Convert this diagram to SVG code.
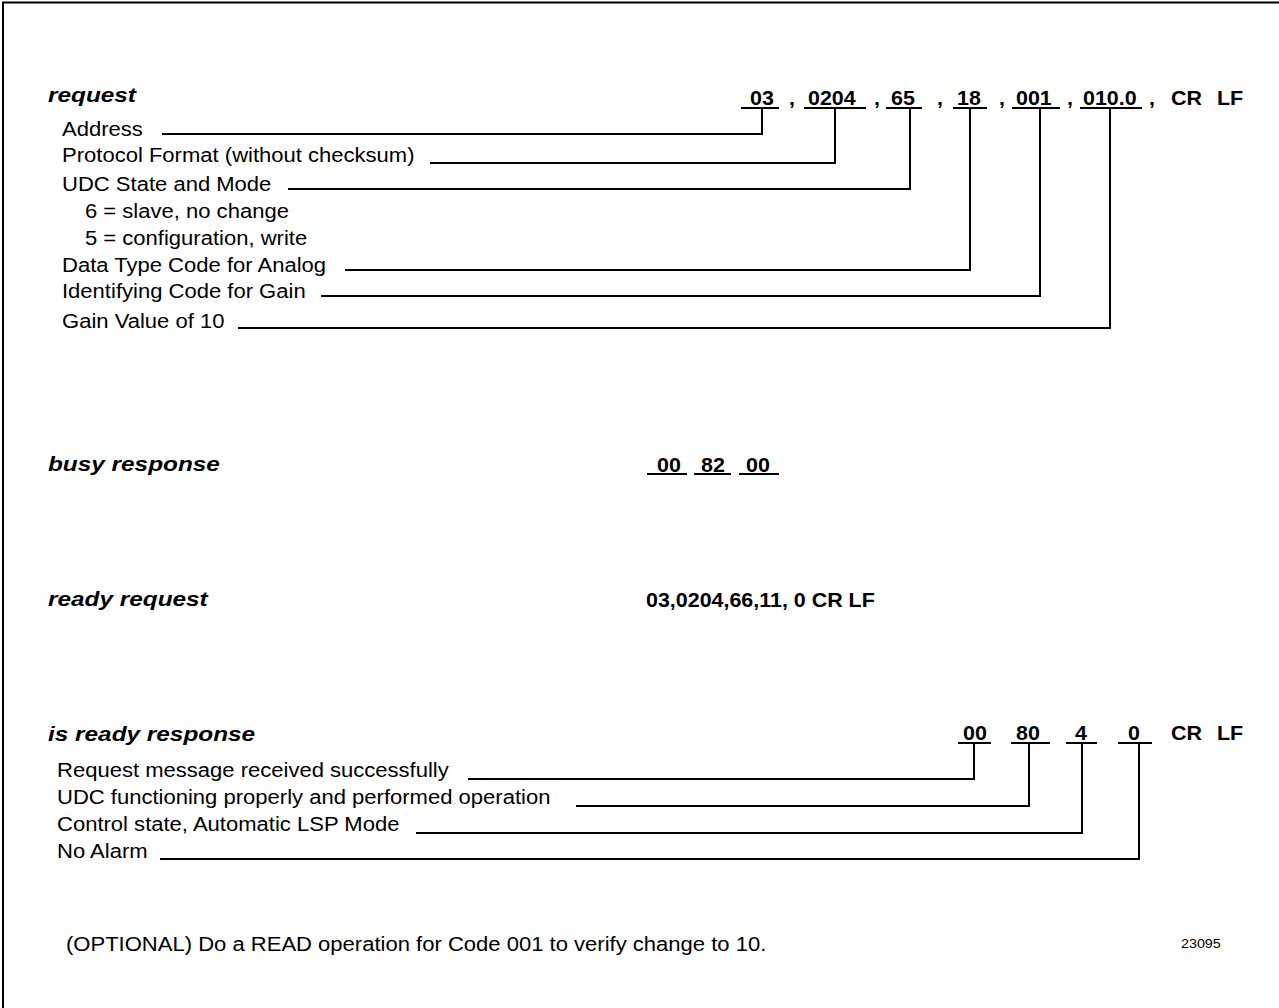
<svg xmlns="http://www.w3.org/2000/svg" width="1279" height="1008" viewBox="0 0 1279 1008">
<style>
.h{font-family:"Liberation Sans",Arial,sans-serif;font-size:21px;font-weight:bold;font-style:italic;fill:#000}
.t{font-family:"Liberation Sans",Arial,sans-serif;font-size:19.5px;fill:#000}
.v{font-family:"Liberation Sans",Arial,sans-serif;font-size:19.5px;font-weight:bold;fill:#000}
.s{font-family:"Liberation Sans",Arial,sans-serif;font-size:13px;fill:#000}
.ln{fill:none;stroke:#000;stroke-width:2}
</style>
<rect width="1279" height="1008" fill="#fff"/>
<path class="ln" d="M3,1008 V2.5 H1279"/>

<g id="request">
<text class="h" transform="translate(48,102) scale(1.16,1)">request</text>
<text class="v" transform="translate(750,105) scale(1.1,1)">03</text>
<text class="v" transform="translate(789,105) scale(1.1,1)">,</text>
<text class="v" transform="translate(808,105) scale(1.1,1)">0204</text>
<text class="v" transform="translate(874,105) scale(1.1,1)">,</text>
<text class="v" transform="translate(891,105) scale(1.1,1)">65</text>
<text class="v" transform="translate(937,105) scale(1.1,1)">,</text>
<text class="v" transform="translate(957,105) scale(1.1,1)">18</text>
<text class="v" transform="translate(999,105) scale(1.1,1)">,</text>
<text class="v" transform="translate(1016,105) scale(1.1,1)">001</text>
<text class="v" transform="translate(1067,105) scale(1.1,1)">,</text>
<text class="v" transform="translate(1083,105) scale(1.1,1)">010.0</text>
<text class="v" transform="translate(1149,105) scale(1.1,1)">,</text>
<text class="v" transform="translate(1171,105) scale(1.1,1)">CR</text>
<text class="v" transform="translate(1217,105) scale(1.1,1)">LF</text>
<text class="t" transform="translate(62,136) scale(1.13,1)">Address</text>
<text class="t" transform="translate(62,162) scale(1.13,1)">Protocol Format (without checksum)</text>
<text class="t" transform="translate(62,191) scale(1.13,1)">UDC State and Mode</text>
<text class="t" transform="translate(85,218) scale(1.13,1)">6 = slave, no change</text>
<text class="t" transform="translate(85,245) scale(1.13,1)">5 = configuration, write</text>
<text class="t" transform="translate(62,272) scale(1.13,1)">Data Type Code for Analog</text>
<text class="t" transform="translate(62,298) scale(1.13,1)">Identifying Code for Gain</text>
<text class="t" transform="translate(62,328) scale(1.13,1)">Gain Value of 10</text>
</g>

<g id="busy-response">
<text class="h" transform="translate(48,471) scale(1.16,1)">busy response</text>
<text class="v" transform="translate(657,472) scale(1.1,1)">00</text>
<text class="v" transform="translate(701,472) scale(1.1,1)">82</text>
<text class="v" transform="translate(746,472) scale(1.1,1)">00</text>
</g>

<g id="ready-request">
<text class="h" transform="translate(48,606) scale(1.16,1)">ready request</text>
<text class="v" transform="translate(646,607) scale(1.1,1)">03,0204,66,11, 0 CR LF</text>
</g>

<g id="is-ready-response">
<text class="h" transform="translate(48,741) scale(1.16,1)">is ready response</text>
<text class="v" transform="translate(963,740) scale(1.1,1)">00</text>
<text class="v" transform="translate(1016,740) scale(1.1,1)">80</text>
<text class="v" transform="translate(1075,740) scale(1.1,1)">4</text>
<text class="v" transform="translate(1128,740) scale(1.1,1)">0</text>
<text class="v" transform="translate(1171,740) scale(1.1,1)">CR</text>
<text class="v" transform="translate(1217,740) scale(1.1,1)">LF</text>
<text class="t" transform="translate(57,777) scale(1.13,1)">Request message received successfully</text>
<text class="t" transform="translate(57,804) scale(1.13,1)">UDC functioning properly and performed operation</text>
<text class="t" transform="translate(57,831) scale(1.13,1)">Control state, Automatic LSP Mode</text>
<text class="t" transform="translate(57,858) scale(1.13,1)">No Alarm</text>
</g>

<g id="footer">
<text class="t" transform="translate(66,951) scale(1.13,1)">(OPTIONAL) Do a READ operation for Code 001 to verify change to 10.</text>
<text class="s" transform="translate(1181,948) scale(1.1,1)">23095</text>
</g>

<g id="connectors">
<path class="ln" d="M741,108 H779 M804,108 H866 M886,108 H922 M953,108 H987 M1012,108 H1060 M1080,108 H1142"/>
<path class="ln" d="M162,134 H762 V108"/>
<path class="ln" d="M430,163 H835 V108"/>
<path class="ln" d="M288,189 H910 V108"/>
<path class="ln" d="M345,270 H970 V108"/>
<path class="ln" d="M321,296 H1040 V108"/>
<path class="ln" d="M238,328 H1110 V108"/>
<path class="ln" d="M647,474 H687 M694,474 H731 M739,474 H779"/>
<path class="ln" d="M958,743 H991 M1011,743 H1050 M1066,743 H1097 M1118,743 H1152"/>
<path class="ln" d="M468,779 H974 V743"/>
<path class="ln" d="M576,806 H1029 V743"/>
<path class="ln" d="M416,833 H1082 V743"/>
<path class="ln" d="M160,859 H1139 V743"/>
</g>
</svg>
